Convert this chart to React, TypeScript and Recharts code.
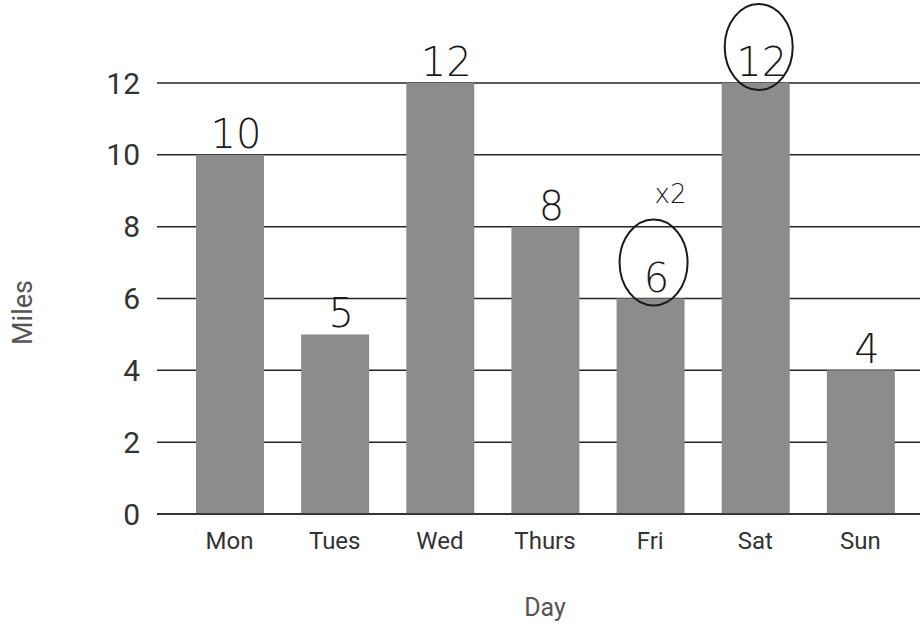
import React from "react";
import { Bar, BarChart, CartesianGrid, LabelList, XAxis, YAxis } from "recharts";

// Miles run per day, with the values written above each bar by hand.
const days = ["Mon", "Tues", "Wed", "Thurs", "Fri", "Sat", "Sun"];
const miles = [10, 5, 12, 8, 6, 12, 4];
const milesTicks = [0, 2, 4, 6, 8, 10, 12];
const circledDays = ["Fri", "Sat"];
const dayNotes = ["", "", "", "", "x2", "", ""];

const chartData = days.map((day, i) => ({ day, miles: miles[i], note: dayNotes[i] }));

const inkFont = "'DejaVu Sans', sans-serif";
const tickFont = "Roboto, 'Noto Sans', sans-serif";

function HandLabel(props: { x?: number; y?: number; width?: number; value?: number; index?: number }) {
  const x = Number(props.x ?? 0);
  const y = Number(props.y ?? 0);
  const w = Number(props.width ?? 0);
  const i = props.index ?? 0;
  const cx = x + w / 2 + 6;
  const day = days[i];
  const circled = circledDays.includes(day);
  const note = dayNotes[i];
  return (
    <g>
      <text x={cx} y={y - 7} textAnchor="middle" fontFamily={inkFont} fontWeight={200} fontSize={40} fill="#1a1a1a">
        {props.value}
      </text>
      {circled ? <ellipse cx={cx - 3} cy={y - 36} rx={34} ry={43} fill="none" stroke="#1a1a1a" strokeWidth={2} /> : null}
      {note ? (
        <text x={cx + 14} y={y - 96} textAnchor="middle" fontFamily={inkFont} fontWeight={200} fontSize={26} fill="#1a1a1a">
          {note}
        </text>
      ) : null}
    </g>
  );
}

function MilesLabel(props: { viewBox?: { x: number; y: number; width: number; height: number } }) {
  const vb = props.viewBox ?? { x: 0, y: 0, width: 0, height: 0 };
  const x = 32;
  const y = vb.y + vb.height / 2 + 14;
  return (
    <text x={x} y={y} transform={`rotate(-90 ${x} ${y})`} textAnchor="middle" fontFamily={tickFont} fontSize={27} fill="#555">
      Miles
    </text>
  );
}

export default function App() {
  return (
    <div style={{ position: "absolute", left: 0, top: 0, width: 920, height: 628, overflow: "hidden", background: "#fff" }}>
      <BarChart width={960} height={628} data={chartData} margin={{ top: 83, right: 27, left: 0, bottom: 0 }} barSize={68}>
        <CartesianGrid vertical={false} stroke="#262626" strokeWidth={1.5} />
        <XAxis
          dataKey="day"
          height={114}
          padding={{ left: 20, right: 20 }}
          tickLine={false}
          tickSize={0}
          tickMargin={18}
          axisLine={{ stroke: "#262626", strokeWidth: 1.5 }}
          tick={{ fill: "#333", fontSize: 24, fontFamily: tickFont }}
          label={{ value: "Day", position: "insideBottom", offset: 12, fill: "#555", fontSize: 25, fontFamily: tickFont }}
        />
        <YAxis
          width={157}
          domain={[0, 12]}
          ticks={milesTicks}
          tickLine={false}
          axisLine={false}
          tickSize={0}
          tickMargin={17}
          tick={{ fill: "#333", fontSize: 30, fontFamily: tickFont }}
          label={<MilesLabel />}
        />
        <Bar dataKey="miles" fill="#8c8c8c" isAnimationActive={false}>
          <LabelList dataKey="miles" content={<HandLabel />} />
        </Bar>
      </BarChart>
    </div>
  );
}
